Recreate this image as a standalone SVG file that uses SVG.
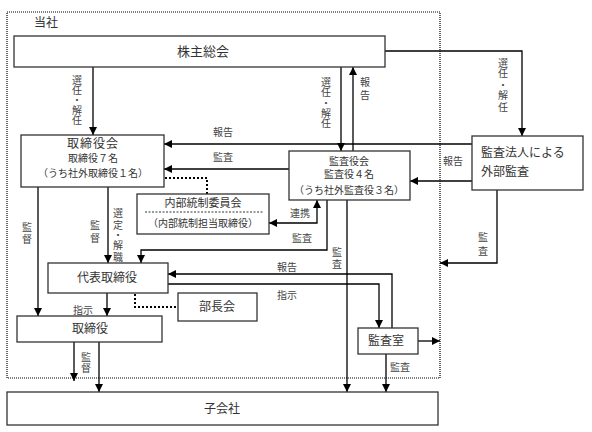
<svg xmlns="http://www.w3.org/2000/svg" width="592" height="432" viewBox="0 0 592 432">
<defs>
<marker id="ah" markerUnits="userSpaceOnUse" markerWidth="9" markerHeight="9" refX="8" refY="4" orient="auto-start-reverse"><path d="M0,0 L8,4 L0,8 z" fill="#000"/></marker>
<style>
.box{fill:#fff;stroke:#333;stroke-width:1.3}
.t{font-family:"Liberation Serif","Noto Sans CJK JP",serif;fill:#333;text-anchor:middle}
.s13{font-size:13px}
.s12{font-size:12px}
.s11{font-size:11px}
.s10{font-size:10px}
.lbl{font-family:"Liberation Serif","Noto Sans CJK JP",serif;fill:#444;font-size:10px;text-anchor:middle}
.ln{fill:none;stroke:#000;stroke-width:1.3}
.ar{marker-end:url(#ah)}
.dot{fill:none;stroke:#000;stroke-width:2;stroke-dasharray:2,2}
</style>
</defs>
<rect x="7" y="12" width="433" height="366" fill="none" stroke="#000" stroke-width="1.2" stroke-dasharray="1,1"/>
<text class="t s12" x="46" y="27">当社</text>

<g id="connectors">
<path class="ln ar" d="M93,67 V135"/>
<path class="ln ar" d="M341,67 V151"/>
<path class="ln ar" d="M353,151 V67"/>
<path class="ln ar" d="M385,51 H522 V136"/>
<path class="ln ar" d="M472,144 H164"/>
<path class="ln ar" d="M289,169 H164"/>
<path class="ln ar" d="M472,181 H410"/>
<path class="ln ar" d="M497,190 V263 H440"/>
<path class="dot" d="M165,178 H207 V194"/>
<path class="ln ar" d="M269,223 H317 V200" marker-start="url(#ah)"/>
<path class="ln ar" d="M327,200 V250 H141 V263"/>
<path class="ln ar" d="M347,200 V392"/>
<path class="ln ar" d="M38,187 V316"/>
<path class="ln ar" d="M108,187 V263"/>
<path class="ln ar" d="M392,328 V274 H168"/>
<path class="ln ar" d="M168,284 H379 V328"/>
<path class="ln ar" d="M107,293 V316"/>
<path class="dot" d="M135,294 V307 H178"/>
<path class="ln ar" d="M74,342 V381"/>
<path class="ln ar" d="M99,342 V392"/>
<path class="ln ar" d="M418,341 H440"/>
<path class="ln ar" d="M386,354 V392"/>
</g>

<g id="labels">
<text class="lbl"><tspan x="77" y="84">選</tspan><tspan x="77" y="94">任</tspan><tspan x="77" y="104">・</tspan><tspan x="77" y="114">解</tspan><tspan x="77" y="124">任</tspan></text>
<text class="lbl"><tspan x="326" y="86">選</tspan><tspan x="326" y="96">任</tspan><tspan x="326" y="107">・</tspan><tspan x="326" y="117">解</tspan><tspan x="326" y="127">任</tspan></text>
<text class="lbl"><tspan x="365" y="86">報</tspan><tspan x="365" y="99">告</tspan></text>
<text class="lbl"><tspan x="503" y="67">選</tspan><tspan x="503" y="77">任</tspan><tspan x="503" y="89">・</tspan><tspan x="503" y="99">解</tspan><tspan x="503" y="111">任</tspan></text>
<text class="lbl" x="223" y="136">報告</text>
<text class="lbl" x="223" y="161">監査</text>
<text class="lbl" x="453" y="165">報告</text>
<text class="lbl" x="300" y="217">連携</text>
<text class="lbl" x="302" y="242">監査</text>
<text class="lbl"><tspan x="337" y="256">監</tspan><tspan x="337" y="268">査</tspan></text>
<text class="lbl"><tspan x="483" y="241">監</tspan><tspan x="483" y="255">査</tspan></text>
<text class="lbl"><tspan x="27" y="231">監</tspan><tspan x="27" y="243">督</tspan></text>
<text class="lbl"><tspan x="95" y="229">監</tspan><tspan x="95" y="242">督</tspan></text>
<text class="lbl"><tspan x="118" y="217">選</tspan><tspan x="118" y="229">定</tspan><tspan x="118" y="239">・</tspan><tspan x="118" y="249">解</tspan><tspan x="118" y="261">職</tspan></text>
<text class="lbl" x="287" y="271">報告</text>
<text class="lbl" x="287" y="299">指示</text>
<text class="lbl" x="83" y="314">指示</text>
<text class="lbl"><tspan x="86" y="361">監</tspan><tspan x="86" y="372">督</tspan></text>
<text class="lbl" x="400" y="371">監査</text>
</g>

<g id="kabunushi">
<rect class="box" x="14" y="36" width="371" height="31"/>
<text class="t s13" x="203" y="56">株主総会</text>
</g>
<g id="torishimariyakukai">
<rect class="box" x="21" y="135" width="143" height="52"/>
<text class="t s12" x="93" y="148" letter-spacing="1">取締役会</text>
<text class="t s10" x="93" y="162">取締役７名</text>
<text class="t s10" x="93" y="177">（うち社外取締役１名）</text>
</g>
<g id="kansayakukai">
<rect class="box" x="289" y="151" width="121" height="49"/>
<text class="t s10" x="349" y="165">監査役会</text>
<text class="t s10" x="349" y="178">監査役４名</text>
<text class="t s10" x="349" y="194">（うち社外監査役３名）</text>
</g>
<g id="gaibukansa">
<rect class="box" x="472" y="136" width="111" height="54"/>
<text class="t s12" x="481" y="157" style="text-anchor:start">監査法人による</text>
<text class="t s12" x="481" y="176" style="text-anchor:start">外部監査</text>
</g>
<g id="naibutousei">
<rect class="box" x="137" y="194" width="132" height="40"/>
<text class="t s11" x="203" y="207">内部統制委員会</text>
<line x1="145" y1="212" x2="263" y2="212" stroke="#333" stroke-width="1" stroke-dasharray="2,1.5"/>
<text class="t s10" x="203" y="227">（内部統制担当取締役）</text>
</g>
<g id="daihyo">
<rect class="box" x="48" y="263" width="120" height="30"/>
<text class="t s12" x="107" y="282">代表取締役</text>
</g>
<g id="buchoukai">
<rect class="box" x="178" y="293" width="79" height="28"/>
<text class="t s12" x="217" y="311">部長会</text>
</g>
<g id="torishimariyaku">
<rect class="box" x="17" y="316" width="145" height="26"/>
<text class="t s12" x="90" y="333">取締役</text>
</g>
<g id="kansashitsu">
<rect class="box" x="358" y="328" width="60" height="26"/>
<text class="t s12" x="386" y="345">監査室</text>
</g>
<g id="kogaisha">
<rect class="box" x="7" y="392" width="431" height="33"/>
<text class="t s12" x="222" y="413">子会社</text>
</g>
</svg>
